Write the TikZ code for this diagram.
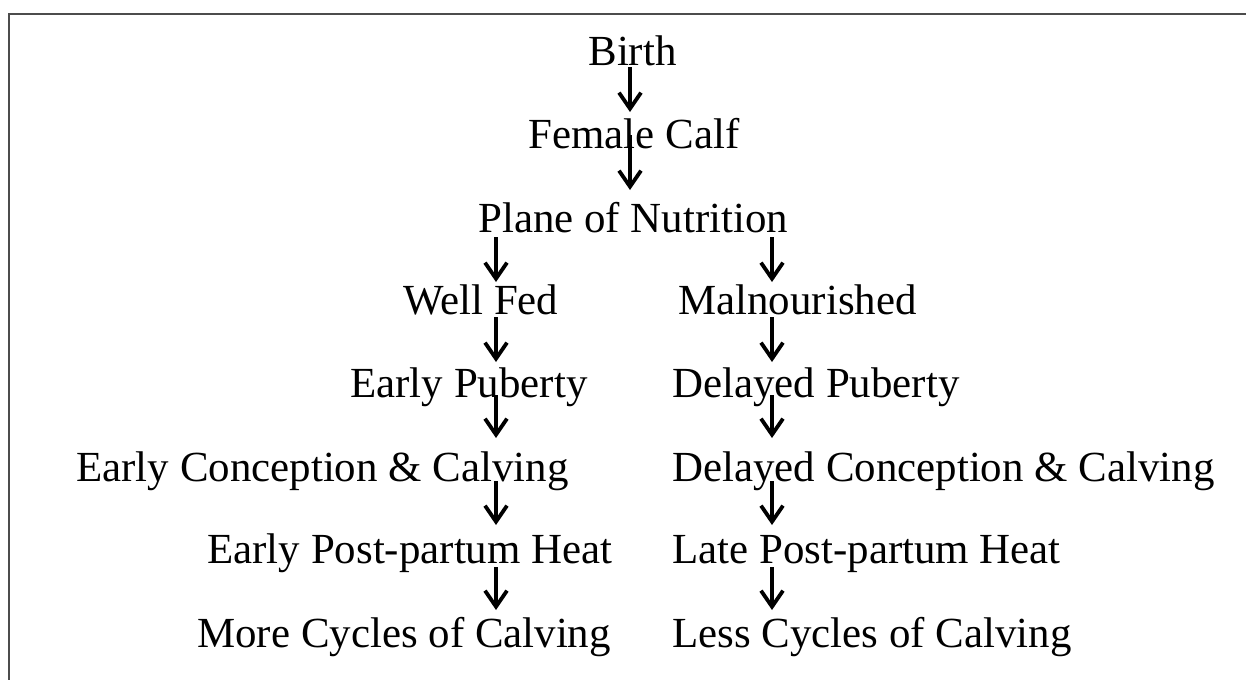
\documentclass[tikz,border=0pt]{standalone}
\usepackage{fontspec}
\setmainfont{Liberation Serif}
\usetikzlibrary{arrows.meta,calc}

\begin{document}
\begin{tikzpicture}[
    x=0.5pt, y=-0.5pt,
    every node/.style={font=\fontsize{21.45}{24}\selectfont, inner sep=0pt, anchor=base west},
    flow/.style={-{Straight Barb[length=8pt,width=11pt]}, line width=1.9pt},
    frame/.style={line width=1pt, black!70}
  ]
    \useasboundingbox (0,0) rectangle (1246,680);
    \draw[frame] (1246,14) -- (9,14) -- (9,680);

    % arrow columns
    \coordinate (colM) at (630,0);
    \coordinate (colL) at (496,0);
    \coordinate (colR) at (772,0);

    \node (birth) at (588,65) {Birth};
    \node (calf)  at (528,148) {Female Calf};
    \node (plane) at (478,232) {Plane of Nutrition};

    \node (fed)   at (403,314) {Well Fed};
    \node (puber) at (350,397) {Early Puberty};
    \node (conc)  at (76,481) {Early Conception \& Calving};
    \node (heat)  at (207,563) {Early Post-partum Heat};
    \node (more)  at (197,647) {More Cycles of Calving};

    \node (mal)    at (678,314) {Malnourished};
    \node (dpuber) at (672,397) {Delayed Puberty};
    \node (dconc)  at (672,481) {Delayed Conception \& Calving};
    \node (late)   at (672,563) {Late Post-partum Heat};
    \node (less)   at (672,647) {Less Cycles of Calving};

    \draw[flow] ($(birth.base -| colM)+(0,2)$) -- ($(calf.base -| colM)+(0,-36)$);
    \draw[flow] ($(calf.base -| colM)+(0,-13)$) -- ($(plane.base -| colM)+(0,-42)$);

    \draw[flow] ($(plane.base -| colL)+(0,5)$) -- ($(fed.base -| colL)+(0,-32)$);
    \draw[flow] ($(fed.base -| colL)+(0,3)$) -- ($(puber.base -| colL)+(0,-35)$);
    \draw[flow] ($(puber.base -| colL)+(0,-2)$) -- ($(conc.base -| colL)+(0,-43)$);
    \draw[flow] ($(conc.base -| colL)+(0,0)$) -- ($(heat.base -| colL)+(0,-38)$);
    \draw[flow] ($(heat.base -| colL)+(0,4)$) -- ($(more.base -| colL)+(0,-37)$);

    \draw[flow] ($(plane.base -| colR)+(0,5)$) -- ($(mal.base -| colR)+(0,-32)$);
    \draw[flow] ($(mal.base -| colR)+(0,3)$) -- ($(dpuber.base -| colR)+(0,-35)$);
    \draw[flow] ($(dpuber.base -| colR)+(0,-2)$) -- ($(dconc.base -| colR)+(0,-43)$);
    \draw[flow] ($(dconc.base -| colR)+(0,0)$) -- ($(late.base -| colR)+(0,-38)$);
    \draw[flow] ($(late.base -| colR)+(0,4)$) -- ($(less.base -| colR)+(0,-37)$);
\end{tikzpicture}
\end{document}
